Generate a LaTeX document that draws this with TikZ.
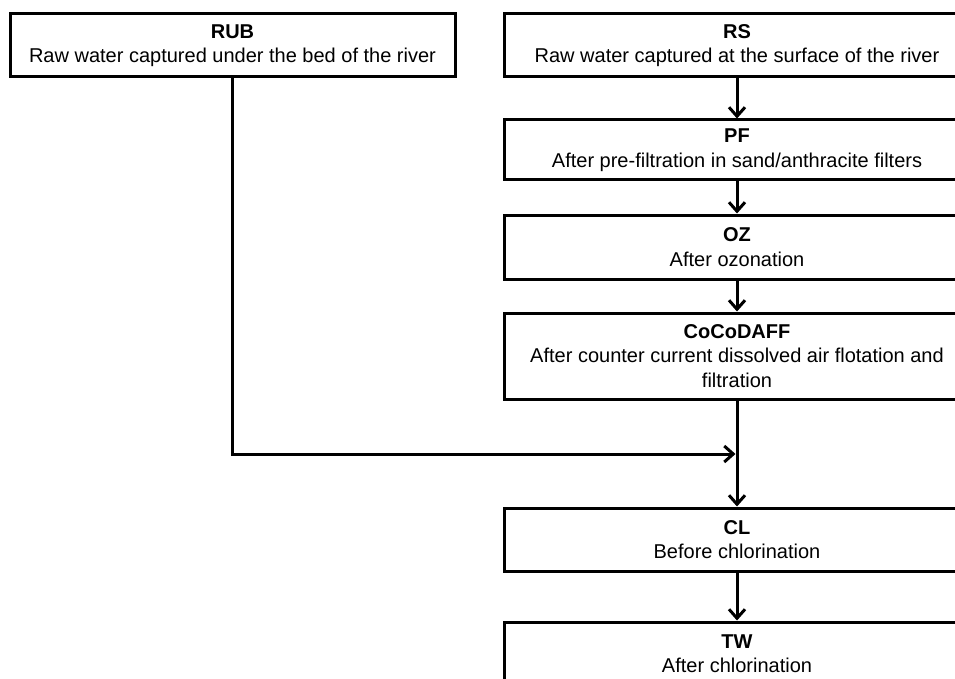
\documentclass[tikz,border=0pt]{standalone}
\usepackage{fontspec}
\setmainfont{Liberation Sans}
\usetikzlibrary{arrows.meta}

\begin{document}
\begin{tikzpicture}[x=1pt, y=-1pt,
    box/.style={draw, rectangle, line width=3pt, align=center, inner sep=0pt,
        font=\fontsize{20}{24.5}\selectfont},
    arr/.style={line width=3pt, -{Straight Barb[length=9pt, width=16pt]}}]
    \useasboundingbox (0,0) rectangle (955,679);
    \clip (0,0) rectangle (955,679);

    % sampling points
    \node[box, minimum width=445pt, minimum height=63pt] (rub) at (232.5,45.5)
        {\textbf{RUB}\\Raw water captured under the bed of the river};
    \node[box, minimum width=466pt, minimum height=63pt] (rs) at (737,45.5)
        {\textbf{RS}\\Raw water captured at the surface of the river};
    \node[box, minimum width=466pt, minimum height=60pt] (pf) at (737,150)
        {\textbf{PF}\\After pre-filtration in sand/anthracite filters};
    \node[box, minimum width=466pt, minimum height=64pt] (oz) at (737,247)
        {\textbf{OZ}\\After ozonation};
    \node[box, minimum width=466pt, minimum height=86pt] (cocodaff) at (737,356)
        {\textbf{CoCoDAFF}\\After counter current dissolved air flotation and\\filtration};
    \node[box, minimum width=466pt, minimum height=63pt] (cl) at (737,539.5)
        {\textbf{CL}\\Before chlorination};
    \node[box, minimum width=466pt, minimum height=63pt] (tw) at (737,653.5)
        {\textbf{TW}\\After chlorination};

    % treatment line
    \draw[arr] (rs) -- (pf);
    \draw[arr] (pf) -- (oz);
    \draw[arr] (oz) -- (cocodaff);
    \draw[arr] (cocodaff) -- (cl);
    \draw[arr] (cl) -- (tw);

    % raw water under the bed joins before chlorination
    \coordinate (join) at (cocodaff.south |- 0,454);
    \draw[arr] (rub.south) |- ([xshift=-1.5pt]join);
\end{tikzpicture}
\end{document}
